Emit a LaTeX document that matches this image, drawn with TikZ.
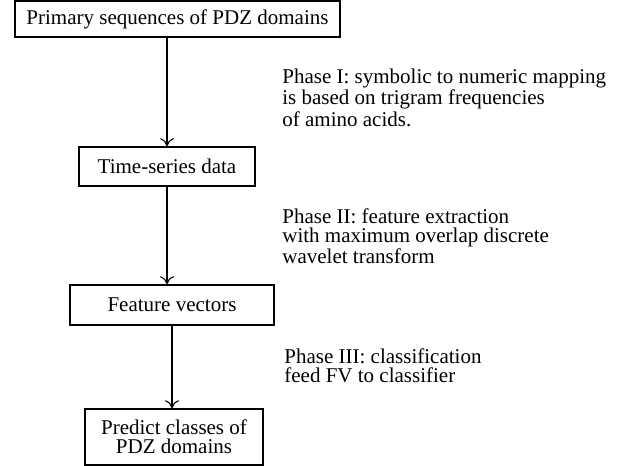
\documentclass[tikz,border=0pt]{standalone}
\usepackage{fontspec}
\setmainfont{Liberation Serif}
\usetikzlibrary{arrows.meta, positioning}

\begin{document}
\begin{tikzpicture}[x=0.5pt, y=-0.5pt, font=\fontsize{10.5}{9.6}\selectfont,
    stage/.style={draw, line width=0.7pt, inner sep=0pt, align=center},
    phase/.style={anchor=north west, align=left, inner sep=0pt},
    flow/.style={-{To[length=4pt, width=7pt]}, line width=0.55pt}]
    \useasboundingbox (0,0) rectangle (628,466);
    % Stages of the pipeline
    \node[stage, minimum width=162.5pt, minimum height=18pt] (prim) at (177.5,19) {Primary sequences of PDZ domains};
    \node[stage, minimum width=88pt, minimum height=19.5pt] (ts) at (167,166.5) {Time-series data};
    \node[stage, minimum width=102pt, minimum height=20pt] (fv) at (172,305) {Feature vectors};
    \node[stage, minimum width=89pt, minimum height=28pt] (pred) at (174,437) {Predict classes of\\PDZ domains};

    % Phase descriptions
    \node[phase] (ph1) at (282,68.5) {Phase I: symbolic to numeric mapping\\is based on trigram frequencies\\of amino acids.};
    \node[phase] (ph2) at (282,208) {Phase II: feature extraction\\with maximum overlap discrete\\wavelet transform};
    \node[phase] (ph3) at (284,348) {Phase III: classification\\feed FV to classifier};

    % Arrows
    \draw[flow] (prim.south -| ts) -- (ts.north);
    \draw[flow] (ts.south) -- (ts.south |- fv.north);
    \draw[flow] (fv.south) -- (fv.south |- pred.north);
\end{tikzpicture}
\end{document}
